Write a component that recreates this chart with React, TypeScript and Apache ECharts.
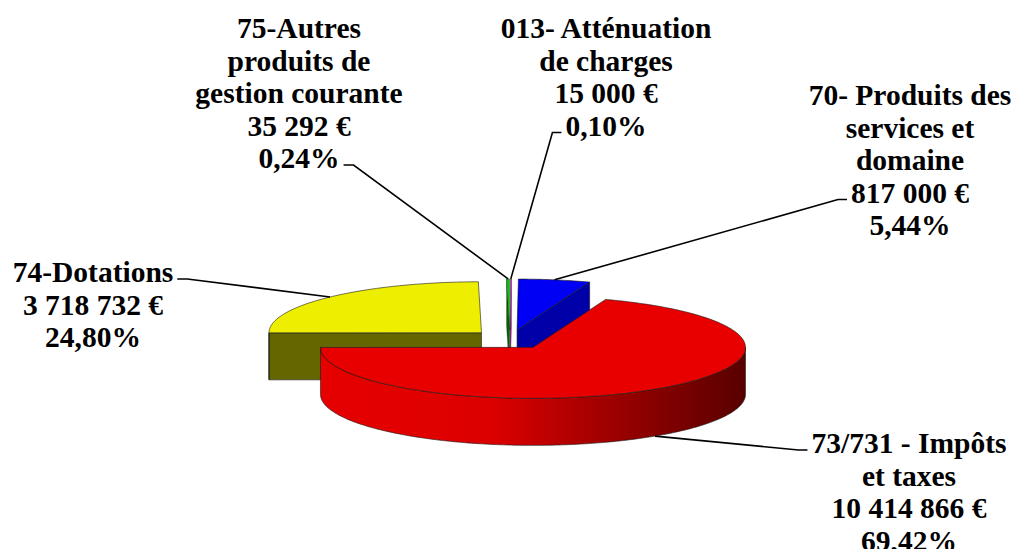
import React, { useEffect, useRef } from "react";
import * as echarts from "echarts";

// ---- data ----
const categories = ["013", "70", "73/731", "74", "75"];
const nameLines: string[][] = [
  ["013- Atténuation", "de charges"],
  ["70- Produits des", "services et", "domaine"],
  ["73/731 - Impôts", "et taxes"],
  ["74-Dotations"],
  ["75-Autres", "produits de", "gestion courante"],
];
const values = [15000, 817000, 10414866, 3718732, 35292];
const percentLabels = ["0,10%", "5,44%", "69,42%", "24,80%", "0,24%"];

// ---- style / layout ----
const topColors = ["#ff33ff", "#0000f5", "#e80000", "#eeee00", "#00cc00"];
const sideColors = ["#b000b0", "#0000a8", "#c00000", "#666600", "#006400"];
const drawOrder = [1, 3, 5, 4, 2];
const labelCenters = [
  [606, 28],
  [910, 95],
  [909, 443],
  [93, 272],
  [299, 28],
];
const labelAttachLine = [3, 3, 0, 0, 4];
const labelSide = ["left", "left", "left", "right", "right"];

const FONT_SIZE = 29.5;
const LINE_H = 32.5;
const FONT = `bold ${FONT_SIZE}px "Liberation Serif", "Times New Roman", serif`;
const CX = 510;
const CY = 339.5;
const RX = 212.5;
const RY = 51;
const DEPTH = 47;
const EXPLODE = 40;
const TWO_PI = Math.PI * 2;

const total = values.reduce((a, b) => a + b, 0);
const startAngles: number[] = [];
{
  let acc = 0;
  for (const v of values) {
    startAngles.push((acc / total) * TWO_PI);
    acc += v;
  }
}

function formatEuro(v: number): string {
  return String(v).replace(/\B(?=(\d{3})+(?!\d))/g, " ") + " €";
}

let measureCtx: CanvasRenderingContext2D | null = null;
function textWidth(t: string): number {
  if (!measureCtx) {
    const c = document.createElement("canvas");
    measureCtx = c.getContext("2d");
  }
  if (!measureCtx) return t.length * FONT_SIZE * 0.5;
  measureCtx.font = FONT;
  return measureCtx.measureText(t).width;
}

export default function App() {
  const ref = useRef<HTMLDivElement>(null);
  useEffect(() => {
    document.body.style.margin = "0";
    if (!ref.current) return;
    const chart = echarts.init(ref.current, undefined, { renderer: "svg" });

    const redSide = new echarts.graphic.LinearGradient(0, 0, 1, 0, [
      { offset: 0, color: "#e60000" },
      { offset: 0.4, color: "#dc0000" },
      { offset: 0.7, color: "#9a0000" },
      { offset: 1, color: "#580000" },
    ]);

    const renderItem = (params: any, api: any) => {
      const i = params.dataIndex;
      const v = api.value(0) as number;
      const a0 = startAngles[i];
      const a1 = a0 + (v / total) * TWO_PI;
      const mid = (a0 + a1) / 2;
      const cx = CX + EXPLODE * Math.sin(mid);
      const cy = CY - EXPLODE * Math.cos(mid) * (RY / RX);
      const P = (t: number, h = 0) => [cx + RX * Math.sin(t), cy - RY * Math.cos(t) + h];
      const arc = (s: number, e: number, h: number) => {
        const n = Math.max(2, Math.ceil((e - s) / (Math.PI / 180)) + 1);
        const pts: number[][] = [];
        for (let k = 0; k < n; k++) pts.push(P(s + ((e - s) * k) / (n - 1), h));
        return pts;
      };
      const z = drawOrder[i] * 10;
      const lw = v / total < 0.01 ? 0.3 : 0.6;
      const edge = { stroke: "#1a1a1a", lineWidth: lw };
      const sideFill = i === 2 ? redSide : sideColors[i];
      const children: any[] = [];

      if (Math.sin(a0) < -1e-9) {
        children.push({
          type: "polygon",
          shape: { points: [[cx, cy], P(a0), P(a0, DEPTH), [cx, cy + DEPTH]] },
          style: { fill: sideColors[i], ...edge },
          z2: z,
        });
      }
      if (Math.sin(a1) > 1e-9) {
        children.push({
          type: "polygon",
          shape: { points: [[cx, cy], P(a1), P(a1, DEPTH), [cx, cy + DEPTH]] },
          style: { fill: sideColors[i], ...edge },
          z2: z,
        });
      }
      const s = Math.max(a0, Math.PI / 2);
      const e = Math.min(a1, (3 * Math.PI) / 2);
      if (e > s) {
        const pts = arc(s, e, 0).concat(arc(s, e, DEPTH).reverse());
        children.push({
          type: "polygon",
          shape: { points: pts },
          style: { fill: sideFill, ...edge },
          z2: z + 1,
        });
      }
      children.push({
        type: "polygon",
        shape: { points: [[cx, cy], ...arc(a0, a1, 0)] },
        style: { fill: topColors[i], ...edge },
        z2: z + 2,
      });

      // label
      const lines = [...nameLines[i], formatEuro(values[i]), percentLabels[i]];
      const [lx, ly] = labelCenters[i];
      lines.forEach((t, k) => {
        children.push({
          type: "text",
          x: lx,
          y: ly + k * LINE_H,
          style: {
            text: t,
            font: FONT,
            fill: "#000",
            align: "center",
            verticalAlign: "middle",
          },
          z2: 200,
        });
      });
      const li = labelAttachLine[i];
      const w = textWidth(lines[li]);
      const ay = ly + li * LINE_H + 7;
      const anchor = P(mid);
      if (mid > Math.PI / 2 && mid < (3 * Math.PI) / 2) anchor[1] += DEPTH;
      let end: number[];
      let elbow: number[];
      if (labelSide[i] === "left") {
        end = [lx - w / 2 - 4, ay];
        elbow = [end[0] - 9, ay];
      } else {
        end = [lx + w / 2 + 4, ay];
        elbow = [end[0] + 10, ay];
      }
      children.push({
        type: "polyline",
        shape: { points: [anchor, elbow, end] },
        style: { stroke: "#000", lineWidth: 1.6, fill: null },
        z2: 150,
      });

      return { type: "group", children };
    };

    chart.setOption({
      animation: false,
      backgroundColor: "#ffffff",
      series: [
        {
          type: "custom",
          coordinateSystem: "none",
          silent: true,
          data: values.map((v, i) => ({ name: categories[i], value: v })),
          renderItem,
        },
      ],
    });
    return () => chart.dispose();
  }, []);
  return <div ref={ref} style={{ width: 1015, height: 549 }} />;
}
